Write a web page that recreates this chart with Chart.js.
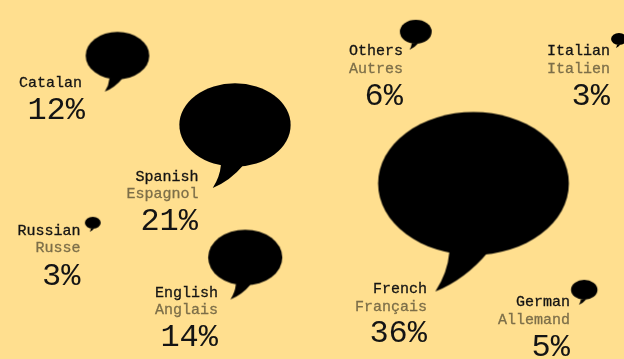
<!DOCTYPE html>
<html><head><meta charset="utf-8">
<style>html,body{margin:0;padding:0;background:#FFDF8F;overflow:hidden}#w{width:624px;height:359px;position:relative}canvas{display:block}</style>
<script src="https://cdn.jsdelivr.net/npm/chart.js@4"></script>
</head><body><div id="w"><canvas id="c" width="624" height="359"></canvas></div>
<script>
const categories = ['Catalan','Spanish','Russian','English','Others','Italian','French','German'];
const frenchNames = ['','Espagnol','Russe','Anglais','Autres','Italien','Français','Allemand'];
const shares = [12,21,3,14,6,3,36,5];
const bubbleX = [117.5,235,92.8,245.2,415.8,619,473.5,584.2];
const bubbleY = [55.6,125,222.8,257.5,31.8,39,183.5,289.8];
const labelRight = [82,198.5,80.5,218,403,610,427,570];
const nameBaseline = [87,181,235,297,55,55,293,306];
const frenchBaseline = [0,198,252,314,73,73,311,324];
const shareBaseline = [119,230,285,346,105,105,342,356];
const shareRight = [85,198,80.5,218,403,610,427,570];
const INK = '#141414', MUTED = '#7d6f49', BG = '#FFDF8F', UNIT = 2.65;

function bubbleIcon(v){
  const rx = v*UNIT, ry = rx*0.75;
  const w = Math.ceil(rx*1.1+4), h = Math.ceil(rx*1.2+4);
  const c = document.createElement('canvas'); c.width = w*2; c.height = h*2;
  const g = c.getContext('2d'); g.fillStyle = '#000'; g.translate(w,h);
  g.beginPath(); g.ellipse(0,0,rx,ry,0,0,Math.PI*2); g.fill();
  g.beginPath(); g.moveTo(-.253*rx,.72*rx);
  g.quadraticCurveTo(-.27*rx,.93*rx,-.40*rx,1.133*rx);
  g.quadraticCurveTo(-.08*rx,1.0*rx,.152*rx,.72*rx);
  g.closePath(); g.fill();
  return c;
}
const labelsPlugin = {
  id:'labels',
  afterDatasetsDraw(chart){
    const g = chart.ctx;
    g.save(); g.textAlign='right'; g.textBaseline='alphabetic';
    categories.forEach((name,i)=>{
      g.fillStyle = INK; g.strokeStyle = INK; g.lineWidth = 0.3;
      g.font = '15px "Liberation Mono"';
      g.fillText(name,labelRight[i],nameBaseline[i]);
      g.strokeText(name,labelRight[i],nameBaseline[i]);
      if(frenchNames[i]){
        g.fillStyle = MUTED; g.strokeStyle = MUTED;
        g.fillText(frenchNames[i],labelRight[i],frenchBaseline[i]);
        g.strokeText(frenchNames[i],labelRight[i],frenchBaseline[i]);
      }
      g.fillStyle = INK; g.font = '32px "Liberation Mono"';
      g.fillText(shares[i]+'%',shareRight[i],shareBaseline[i]);
    });
    g.restore();
  }
};
new Chart(document.getElementById('c'),{
  type:'bubble',
  data:{datasets:[{
    data:shares.map((v,i)=>({x:bubbleX[i],y:bubbleY[i],r:v*UNIT})),
    pointStyle:shares.map(bubbleIcon),
    backgroundColor:'#000',borderWidth:0,clip:false
  }]},
  options:{
    responsive:false,animation:false,
    layout:{padding:0,autoPadding:false},
    plugins:{legend:{display:false},tooltip:{enabled:false}},
    scales:{
      x:{type:'linear',min:0,max:624,display:false},
      y:{type:'linear',min:0,max:359,reverse:true,display:false}
    }
  },
  plugins:[{id:'bg',beforeDraw(ch){ch.ctx.fillStyle=BG;ch.ctx.fillRect(0,0,624,359);}},labelsPlugin]
});
</script></body></html>
